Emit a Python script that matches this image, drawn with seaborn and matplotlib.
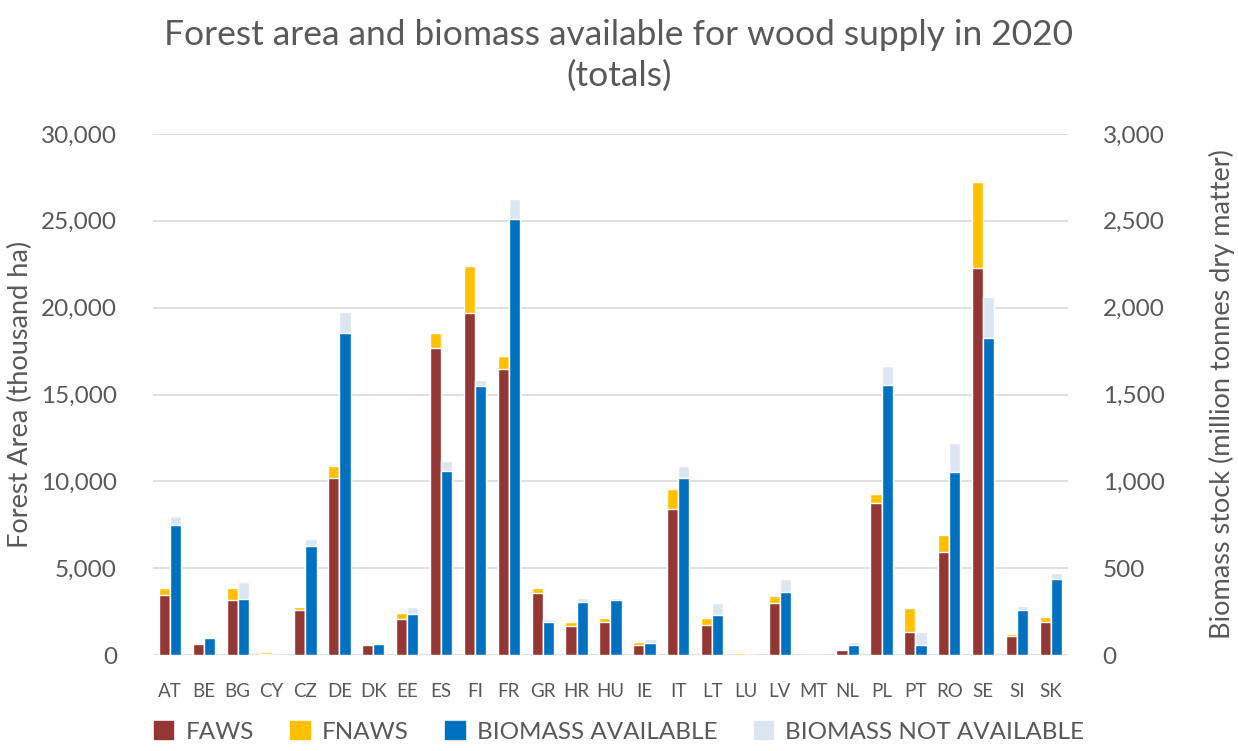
import matplotlib
matplotlib.use('Agg')
import matplotlib.pyplot as plt
import matplotlib.patches as mpatches
from matplotlib.ticker import FuncFormatter
import pandas as pd
import seaborn as sns

sns.set_theme(style='white')
plt.rcParams['font.family'] = ['Lato', 'DejaVu Sans']

# Data
countries = ['AT', 'BE', 'BG', 'CY', 'CZ', 'DE', 'DK', 'EE', 'ES', 'FI', 'FR', 'GR', 'HR', 'HU',
             'IE', 'IT', 'LT', 'LU', 'LV', 'MT', 'NL', 'PL', 'PT', 'RO', 'SE', 'SI', 'SK']
# forest area, thousand ha
faws = [3450, 620, 3140, 40, 2620, 10220, 580, 2060, 17650, 19670, 16470, 3550, 1690, 1920,
        580, 8420, 1750, 0, 2990, 0, 270, 8750, 1300, 5950, 22300, 1070, 1920]
fnaws = [410, 40, 740, 130, 170, 660, 40, 350, 910, 2730, 760, 330, 210, 210,
         160, 1140, 410, 90, 410, 0, 100, 520, 1380, 970, 4910, 150, 250]
# biomass stock, million tonnes dry matter
bio_avail = [747, 99, 320, 0, 630, 1856, 66, 237, 1059, 1548, 2512, 190, 305, 314,
             70, 1018, 229, 0, 365, 0, 58, 1555, 58, 1051, 1823, 262, 438]
bio_not_avail = [54, 4, 103, 0, 37, 118, 2, 42, 56, 37, 116, 16, 21, 12,
                 23, 72, 70, 0, 75, 0, 16, 107, 76, 171, 237, 21, 35]

c_faws = '#943634'
c_fnaws = '#FFC000'
c_avail = '#0070C0'
c_not = '#DCE6F2'
grey = '#595959'

area = pd.DataFrame({'country': countries, 'side': 'area',
                     'bottom': faws,
                     'total': [a + b for a, b in zip(faws, fnaws)]})
bio = pd.DataFrame({'country': countries, 'side': 'bio',
                    'bottom': bio_avail,
                    'total': [a + b for a, b in zip(bio_avail, bio_not_avail)]})

fig = plt.figure(figsize=(12.38, 7.51), dpi=100)
ax = fig.add_axes([0.1236, 0.1278, 0.739, 0.6938])
ax2 = ax.twinx()

order = ['area', 'bio']
kw = dict(x='country', hue='side', hue_order=order, order=countries, dodge=True,
          width=0.66, errorbar=None, saturation=1, legend=False)

# stacked bars: draw totals, then the lower segment on top
sns.barplot(data=area, y='total', palette={'area': c_fnaws, 'bio': c_not}, ax=ax, **kw)
sns.barplot(data=area, y='bottom', palette={'area': c_faws, 'bio': c_avail}, ax=ax, **kw)
sns.barplot(data=bio, y='total', palette={'area': c_fnaws, 'bio': c_not}, ax=ax2, **kw)
sns.barplot(data=bio, y='bottom', palette={'area': c_faws, 'bio': c_avail}, ax=ax2, **kw)

ax.set_ylim(0, 30000)
ax2.set_ylim(0, 3000)
ax.set_yticks(range(0, 30001, 5000))
ax2.set_yticks(range(0, 3001, 500))
fmt = FuncFormatter(lambda v, p: f'{int(v):,}')
ax.yaxis.set_major_formatter(fmt)
ax2.yaxis.set_major_formatter(fmt)
ax.set_xlim(-0.5, len(countries) - 0.5)

ax.grid(axis='y', color='#D9D9D9', linewidth=1.2)
ax.set_axisbelow(True)
for a in (ax, ax2):
    for s in a.spines.values():
        s.set_visible(False)
    a.tick_params(length=0, colors=grey, labelsize=17.5)
ax.tick_params(axis='x', labelsize=13.5, pad=20)
ax.tick_params(axis='y', pad=26)
ax2.tick_params(axis='y', pad=25)

ax.set_xlabel('')
ax.set_ylabel('Forest Area (thousand ha)', fontsize=19.5, color=grey, labelpad=6)
ax2.set_ylabel('Biomass stock (million tonnes dry matter)', fontsize=19.5, color=grey, labelpad=32)

fig.suptitle('Forest area and biomass available for wood supply in 2020\n(totals)',
             fontsize=25.5, color=grey, y=0.975, linespacing=1.35)

handles = [mpatches.Patch(color=c_faws, label='FAWS'),
           mpatches.Patch(color=c_fnaws, label='FNAWS'),
           mpatches.Patch(color=c_avail, label='BIOMASS AVAILABLE'),
           mpatches.Patch(color=c_not, label='BIOMASS NOT AVAILABLE')]
leg = fig.legend(handles=handles, loc='lower center', bbox_to_anchor=(0.5, -0.018), ncol=4,
                 frameon=False, fontsize=17.5, handlelength=0.8, handleheight=0.8,
                 columnspacing=1.5, handletextpad=0.5)
for t in leg.get_texts():
    t.set_color(grey)

fig.savefig('out.png', dpi=100)
